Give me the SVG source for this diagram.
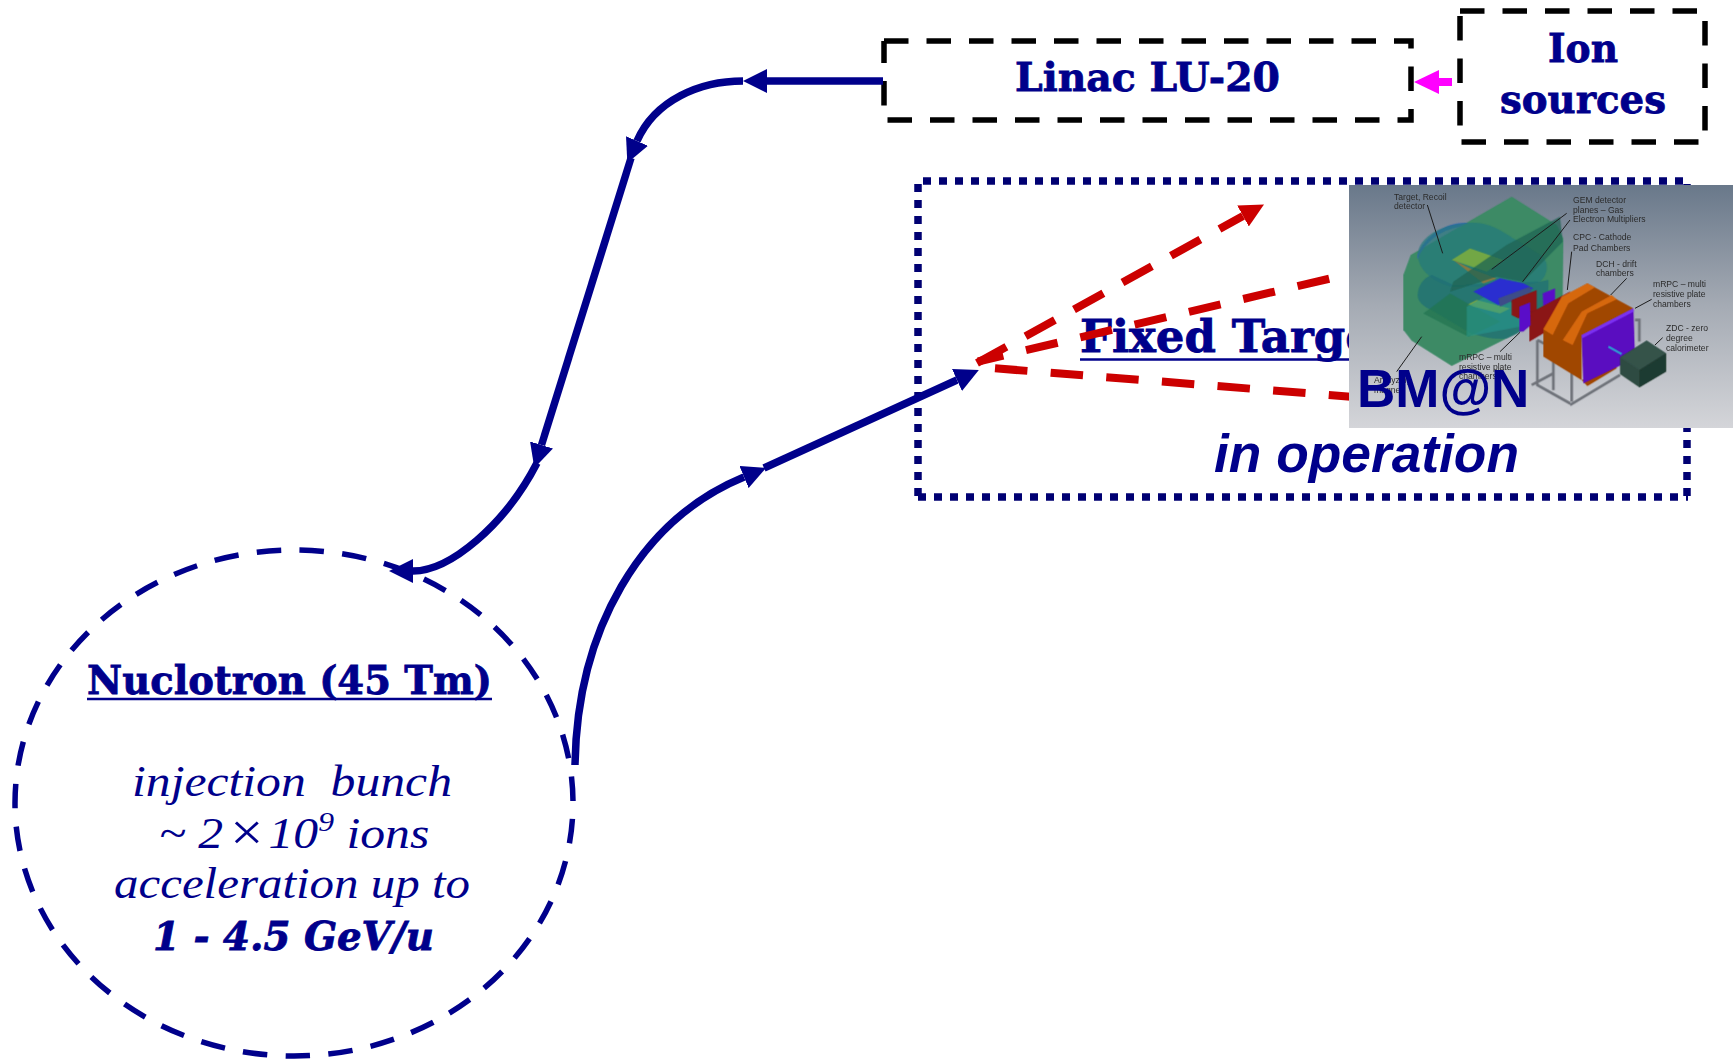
<svg xmlns="http://www.w3.org/2000/svg" width="1733" height="1059" viewBox="0 0 1733 1059">
<style>
.slab{font-family:"DejaVu Serif","Liberation Serif",serif;font-weight:700;fill:#00008b;stroke:#00008b;stroke-width:.8}
.ital{font-family:"Liberation Serif","DejaVu Serif",serif;font-style:italic;font-size:44px;fill:#00008b}
.sans{font-family:"Liberation Sans","DejaVu Sans",sans-serif;font-weight:700;fill:#00008b}
.tiny{font-family:"Liberation Sans","DejaVu Sans",sans-serif;font-size:8.6px;fill:#2b2b2b}
.black{fill:none;stroke:#000;stroke-width:5.5;stroke-dasharray:24.5 18}
.blue{fill:none;stroke:#00008b;stroke-width:7.5}
.red{fill:none;stroke:#cc0000;stroke-width:8;stroke-dasharray:32.5 23.3}
.lead{stroke:#1c1c1c;stroke-width:3;fill:none}
.frame{stroke:#6f737a;stroke-width:8;fill:none}
.under{stroke:#00008b;stroke-width:2.6}
</style>
<defs>
<marker id="hb" markerUnits="userSpaceOnUse" markerWidth="24" markerHeight="24" refX="0" refY="12" orient="auto"><path d="M0,0L24,12L0,24z" fill="#00008b"/></marker>
<marker id="hr" markerUnits="userSpaceOnUse" markerWidth="24" markerHeight="24" refX="0" refY="12" orient="auto"><path d="M0,0L24,12L0,24z" fill="#cc0000"/></marker>
<marker id="hm" markerUnits="userSpaceOnUse" markerWidth="25" markerHeight="24" refX="0" refY="12" orient="auto"><path d="M0,0L25,12L0,24z" fill="#ff00ff"/></marker>
<linearGradient id="bg" x1="0" y1="0" x2="0" y2="1"><stop offset="0" stop-color="#69788a"/><stop offset=".5" stop-color="#a5abb4"/><stop offset="1" stop-color="#d4d5d9"/></linearGradient>
<filter id="soft" x="-2%" y="-2%" width="104%" height="104%"><feGaussianBlur stdDeviation=".9"/></filter>
</defs>

<g id="node-fixed-target">
<path d="M923,181H1684M918,184V497M918,497H1688M1687,184V497" fill="none" stroke="#000072" stroke-width="7.5" stroke-dasharray="8 8"/>
<text class="slab" x="1080" y="352" font-size="45">Fixed Target</text>
<path class="under" d="M1080,359.5H1360"/>
<text class="sans" x="1214" y="472" font-size="53.3" font-style="italic">in operation</text>
</g>

<g id="node-linac">
<path class="black" d="M884,41H1411V120H884V41"/>
<text class="slab" x="1015" y="91" font-size="40" textLength="265" lengthAdjust="spacingAndGlyphs">Linac LU-20</text>
</g>

<g id="node-ion-sources">
<path class="black" d="M1460,11H1705V142H1460V11"/>
<text class="slab" x="1548" y="62" font-size="40" textLength="70" lengthAdjust="spacingAndGlyphs">Ion</text>
<text class="slab" x="1500" y="113" font-size="40" textLength="166" lengthAdjust="spacingAndGlyphs">sources</text>
</g>

<g id="node-nuclotron">
<ellipse cx="294" cy="803" rx="279" ry="253" fill="none" stroke="#00008b" stroke-width="5.5" stroke-dasharray="24.5 18.37" stroke-dashoffset="-16"/>
<text class="slab" x="87" y="693.5" font-size="40" textLength="405" lengthAdjust="spacingAndGlyphs">Nuclotron (45 Tm)</text>
<path class="under" d="M87,699H492"/>
<text class="ital" x="132" y="796" style="white-space:pre" textLength="320" lengthAdjust="spacingAndGlyphs">injection  bunch</text>
<text class="ital" transform="translate(159,847.5) scale(1.13,1)">~ 2<tspan font-size="52" dy="2" dx="3">×</tspan><tspan dy="-2" dx="2">10</tspan><tspan font-size="28" dy="-17">9</tspan><tspan dy="17"> ions</tspan></text>
<text class="ital" x="114" y="897.5" textLength="356" lengthAdjust="spacingAndGlyphs">acceleration up to</text>
<text class="slab" x="153" y="949.5" font-size="40" font-style="italic" textLength="281" lengthAdjust="spacingAndGlyphs">1 - 4.5 GeV/u</text>
</g>

<g id="connectors">
<path class="blue" d="M883,81H767" marker-end="url(#hb)"/>
<path class="blue" d="M743,81C700,81 655,100 637,141" marker-end="url(#hb)"/>
<path class="blue" d="M631,158L541.5,445" marker-end="url(#hb)"/>
<path class="blue" d="M537,463C505,525 450,571 413,571" marker-end="url(#hb)"/>
<path class="blue" d="M575,765C577,630 640,520 744,477" marker-end="url(#hb)"/>
<path class="blue" d="M764,468L957,380" marker-end="url(#hb)"/>
<path d="M1452,82H1439" fill="none" stroke="#ff00ff" stroke-width="8" marker-end="url(#hm)"/>
<path class="red" d="M977,363L1243,216" style="stroke-dasharray:33.6 21.8" marker-end="url(#hr)"/>
<path class="red" d="M978,361.5L1360,271.5" stroke-dashoffset="6.5"/>
<path class="red" d="M995,368.3L1360,397.4"/>
</g>

<g id="node-bman">
<rect x="1349" y="185" width="384" height="243" fill="url(#bg)"/>
<g transform="translate(1340,170) scale(.33333)">
<g filter="url(#soft)">
<path d="M515,80L650,165L670,205L668,400L530,490L335,588L215,512L190,480V315L212,255Z" fill="#3c8a65"/>
<path d="M232,255C255,195 320,155 385,158L360,170C300,180 255,215 232,268Z" fill="#3a66b8"/>
<path d="M233,255C235,200 310,158 395,158C450,158 480,180 520,205L605,258C628,275 625,315 600,335L560,345L340,350C300,345 235,310 233,255Z" fill="#24797c" opacity=".7"/>
<path d="M233,375C235,345 250,325 275,315L340,345L600,335L625,330C630,400 590,470 500,505C440,510 390,490 360,470L275,420C250,410 233,395 233,375Z" fill="#1f6f76" opacity=".75"/>
<path d="M335,270L390,235L490,270L440,305Z" fill="#7fae3c" opacity=".85"/>
<path d="M340,270L390,295L470,325L430,340Z" fill="#b0782a" opacity=".7"/>
<path d="M380,405L480,430L510,415L410,390Z" fill="#8fb03a" opacity=".8"/>
<path d="M330,365L340,335L500,225L660,140L668,215L550,335L470,320Z" fill="#1f6454" opacity=".75"/>
<path d="M250,430L330,370L480,455L385,500Z" fill="#237452" opacity=".75"/>
<path d="M380,500V410L470,360L540,420V470Z" fill="#2a9a90" opacity=".55"/>
<path d="M400,365L480,325L550,340L580,355L475,405Z" fill="#2a2ed0"/>
<path d="M475,385L570,350L575,365L480,410Z" fill="#3d4d88"/>
<path d="M515,390L590,360V420L535,445L515,435Z" fill="#8b1414"/>
<path d="M608,370L645,355V395L610,415Z" fill="#5a10c8"/>
<path d="M568,430L690,365V390L640,440L610,490L568,515Z" fill="#8b1414"/>
<path d="M538,410L570,397L572,465L550,485H538Z" fill="#5a10c8"/>
<path class="frame" d="M592,510V645L690,700M640,540V660M695,565V695M592,510L695,565M575,645L640,610M690,705L840,615M885,450H898V515"/>
<path d="M610,475L670,380L742,340L880,415L725,495V630L742,648L830,595V590L725,630L610,560Z" fill="#a04600"/>
<path d="M610,478L665,380L742,340L765,352L685,400L638,495Z" fill="#d66810"/>
<path d="M668,510L725,425L815,375L830,388L742,430L698,525Z" fill="#d66810"/>
<path d="M725,495L880,415L885,565L730,640Z" fill="#5a08c0"/>
<path d="M725,495L880,415L882,425L727,505Z" fill="#7a30f0"/>
<path d="M805,530L845,552" stroke="#2f9ad0" stroke-width="7" fill="none"/>
<path d="M840,562L920,512L978,550V605L898,652L840,612Z" fill="#2f4c42"/>
<path d="M840,562L898,600L978,550L920,512Z" fill="#34524a"/>
<path d="M898,600L978,550V605L898,652Z" fill="#1f3a30"/>
</g>
<path class="lead" d="M262,105L308,250M680,130L455,298M690,150L548,335M695,245L682,360M860,325L812,375M935,388L885,415M968,503L945,525M540,487L480,545M245,500L170,605"/>
</g>
<text class="tiny" x="1394" y="200">Target, Recoil</text>
<text class="tiny" x="1394" y="209">detector</text>
<text class="tiny" x="1573" y="203">GEM detector</text>
<text class="tiny" x="1573" y="213">planes – Gas</text>
<text class="tiny" x="1573" y="222">Electron Multipliers</text>
<text class="tiny" x="1573" y="240">CPC - Cathode</text>
<text class="tiny" x="1573" y="251">Pad Chambers</text>
<text class="tiny" x="1596" y="267">DCH - drift</text>
<text class="tiny" x="1596" y="276">chambers</text>
<text class="tiny" x="1653" y="287">mRPC – multi</text>
<text class="tiny" x="1653" y="297">resistive plate</text>
<text class="tiny" x="1653" y="307">chambers</text>
<text class="tiny" x="1666" y="331">ZDC - zero</text>
<text class="tiny" x="1666" y="341">degree</text>
<text class="tiny" x="1666" y="351">calorimeter</text>
<text class="tiny" x="1459" y="360">mRPC – multi</text>
<text class="tiny" x="1459" y="370">resistive plate</text>
<text class="tiny" x="1459" y="379">chambers</text>
<text class="tiny" x="1374" y="383">Analyzing</text>
<text class="tiny" x="1374" y="393">magnet</text>
<text class="sans" x="1357" y="407" font-size="53">BM@N</text>
</g>
</svg>
